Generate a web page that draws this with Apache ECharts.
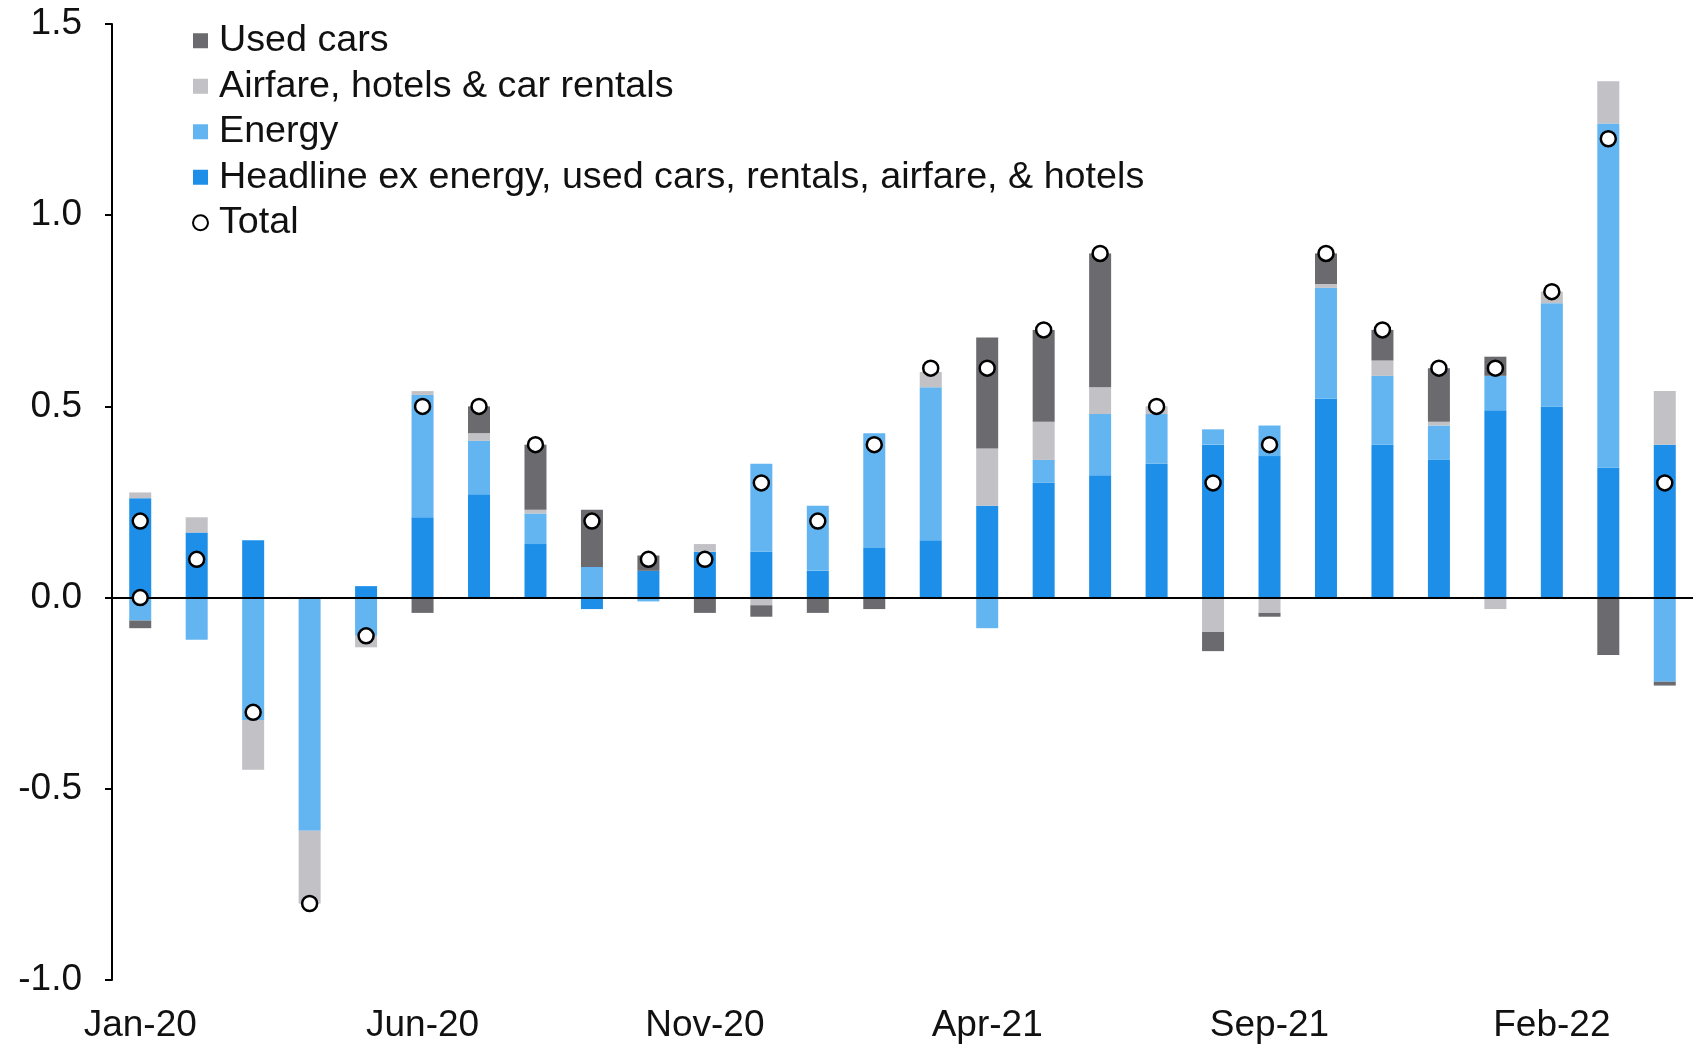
<!DOCTYPE html>
<html>
<head>
<meta charset="utf-8">
<title>CPI contributions</title>
<script src="https://cdn.jsdelivr.net/npm/echarts@6/dist/echarts.min.js"></script>
<style>
  html, body { margin: 0; padding: 0; background: #fff; }
  #chart { width: 1696px; height: 1047px; }
</style>
</head>
<body>
<div id="chart"></div>
<script>
// months on the x axis
const months = [
  "Jan-20", "Feb-20", "Mar-20", "Apr-20", "May-20", "Jun-20", "Jul-20",
  "Aug-20", "Sep-20", "Oct-20", "Nov-20", "Dec-20", "Jan-21", "Feb-21",
  "Mar-21", "Apr-21", "May-21", "Jun-21", "Jul-21", "Aug-21", "Sep-21",
  "Oct-21", "Nov-21", "Dec-21", "Jan-22", "Feb-22", "Mar-22", "Apr-22",
];
// contributions, %-pts
const headlineEx = [0.26, 0.17, 0.15, 0.0, 0.03, 0.21, 0.27, 0.14, -0.03, 0.07, 0.12, 0.12, 0.07, 0.13,
  0.15, 0.24, 0.30, 0.32, 0.35, 0.40, 0.37, 0.52, 0.40, 0.36, 0.49, 0.50, 0.34, 0.40];
const energy = [-0.06, -0.11, -0.32, -0.61, -0.10, 0.32, 0.14, 0.08, 0.08, -0.01, 0.0, 0.23, 0.17, 0.30,
  0.40, -0.08, 0.06, 0.16, 0.13, 0.04, 0.08, 0.29, 0.18, 0.09, 0.09, 0.27, 0.90, -0.22];
const airfare = [0.015, 0.04, -0.13, -0.19, -0.03, 0.01, 0.02, 0.01, 0.0, 0.0, 0.02, -0.02, 0.0, 0.0,
  0.04, 0.15, 0.10, 0.07, 0.02, -0.09, -0.04, 0.01, 0.04, 0.01, -0.03, 0.03, 0.11, 0.14];
const usedCars = [-0.02, 0, 0, 0, 0, -0.04, 0.07, 0.17, 0.15, 0.04, -0.04, -0.03, -0.04, -0.03,
  0, 0.29, 0.24, 0.35, 0, -0.05, -0.01, 0.08, 0.08, 0.14, 0.05, 0, -0.15, -0.01];
const total = [0.2, 0.1, -0.3, -0.8, -0.1, 0.5, 0.5, 0.4, 0.2, 0.1, 0.1, 0.3, 0.2, 0.4,
  0.6, 0.6, 0.7, 0.9, 0.5, 0.3, 0.4, 0.9, 0.7, 0.6, 0.6, 0.8, 1.2, 0.3];
// stray extra marker in the source chart: [month index, value]
const totalExtra = [[0, 0.0]];

const font = "'Liberation Sans', Arial, sans-serif";
const colors = {
  headline: "#1E8FE8",
  energy: "#63B5F1",
  airfare: "#C1C1C6",
  used: "#6B6B6F",
};

const chart = echarts.init(document.getElementById("chart"));

const barSeries = (name, data, color) => ({
  name: name,
  type: "bar",
  stack: "cpi",
  barWidth: 22,
  data: data,
  itemStyle: { color: color },
  emphasis: { disabled: true },
});

const option = {
  animation: false,
  textStyle: { fontFamily: font },
  grid: { left: 112, right: 3, top: 24, bottom: 67 },
  legend: {
    orient: "vertical",
    left: 187,
    top: 13,
    itemGap: 0,
    itemWidth: 15,
    itemHeight: 15,
    textStyle: { fontSize: 37.7, color: "#111", lineHeight: 45.5, padding: [0, 0, 0, 6], fontFamily: font },
    data: [
      { name: "Used cars", icon: "rect" },
      { name: "Airfare, hotels & car rentals", icon: "rect" },
      { name: "Energy", icon: "rect" },
      { name: "Headline ex energy, used cars, rentals, airfare, & hotels", icon: "rect" },
      { name: "Total", icon: "circle", itemStyle: { color: "#fff", borderColor: "#000", borderWidth: 2 } },
    ],
  },
  xAxis: {
    type: "category",
    data: months,
    axisLine: { show: false, onZero: false },
    axisTick: { show: false },
    axisLabel: { interval: 4, fontSize: 37, color: "#111", margin: 27, fontFamily: font },
  },
  yAxis: {
    type: "value",
    min: -1.0,
    max: 1.5,
    interval: 0.5,
    splitLine: { show: false },
    axisLine: { show: true, lineStyle: { color: "#000", width: 2 } },
    axisTick: { show: true, length: 7, lineStyle: { color: "#000", width: 2 } },
    axisLabel: {
      fontSize: 37,
      color: "#111",
      margin: 30,
      fontFamily: font,
      formatter: (v) => v.toFixed(1),
    },
  },
  series: [
    Object.assign(barSeries("Headline ex energy, used cars, rentals, airfare, & hotels", headlineEx, colors.headline), {
      markLine: {
        silent: true,
        symbol: "none",
        label: { show: false },
        lineStyle: { color: "#000", width: 2, type: "solid" },
        data: [{ yAxis: 0 }],
      },
    }),
    barSeries("Energy", energy, colors.energy),
    barSeries("Airfare, hotels & car rentals", airfare, colors.airfare),
    barSeries("Used cars", usedCars, colors.used),
    {
      name: "Total",
      type: "scatter",
      symbol: "circle",
      symbolSize: 15,
      z: 5,
      data: total.map((v, i) => [i, v]).concat(totalExtra),
      itemStyle: { color: "#fff", borderColor: "#000", borderWidth: 2.5, opacity: 1 },
      emphasis: { disabled: true },
    },
  ],
};

chart.setOption(option);
</script>
</body>
</html>
